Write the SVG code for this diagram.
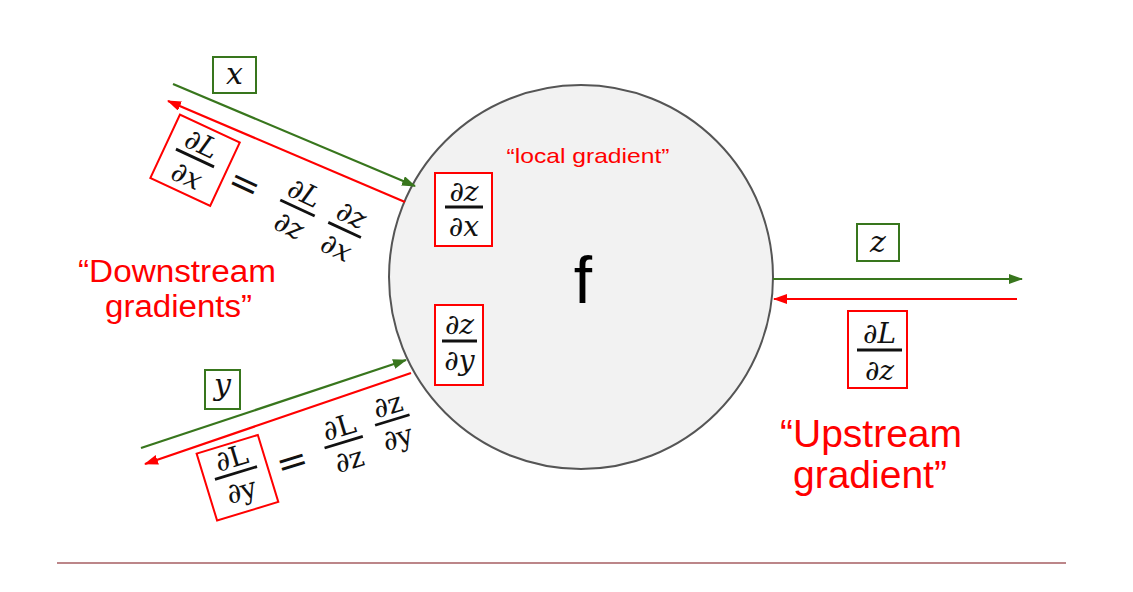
<svg xmlns="http://www.w3.org/2000/svg" width="1133" height="592" viewBox="0 0 1133 592">
<style>
.m{font-family:"DejaVu Serif","Liberation Serif",serif;font-style:italic;font-size:28px;text-anchor:middle;fill:#111}
.u{font-family:"DejaVu Serif","Liberation Serif",serif;font-size:28px;text-anchor:middle;fill:#111}
.eq{font-family:"DejaVu Serif","Liberation Serif",serif;font-size:38px;text-anchor:middle;fill:#111}
.v{font-family:"DejaVu Serif","Liberation Serif",serif;font-style:italic;font-size:30px;text-anchor:middle;fill:#111}
.bar{stroke:#111;stroke-width:2.8}
.rb{fill:#fff;stroke:#ff0000;stroke-width:2}
.gb{fill:#fff;stroke:#38761d;stroke-width:2}
.lab{font-family:"Liberation Sans",Arial,sans-serif;fill:#ff0000}
.g{stroke:#38761d;stroke-width:2.2;fill:none}
.r{stroke:#ff0000;stroke-width:2.2;fill:none}
</style>
<defs>
<marker id="ag" markerWidth="14" markerHeight="10" refX="13" refY="5" orient="auto" markerUnits="userSpaceOnUse"><path d="M0,0 L14,5 L0,10 z" fill="#38761d"/></marker>
<marker id="ar" markerWidth="14" markerHeight="10" refX="13" refY="5" orient="auto" markerUnits="userSpaceOnUse"><path d="M0,0 L14,5 L0,10 z" fill="#ff0000"/></marker>
</defs>
<rect width="1133" height="592" fill="#fff"/>

<g id="node-f">
<circle cx="581" cy="277" r="192" fill="#f2f2f2" stroke="#555" stroke-width="2"/>
<text x="583" y="303" font-family="Liberation Sans,Arial,sans-serif" font-size="66" text-anchor="middle" fill="#000">f</text>
<text class="lab" x="588" y="163" font-size="21" text-anchor="middle" textLength="163" lengthAdjust="spacingAndGlyphs">“local gradient”</text>
</g>

<g id="local-dzdx">
<rect class="rb" x="435" y="173" width="57" height="73"/>
<text class="m" x="464" y="201">∂z</text>
<line class="bar" x1="445" y1="207" x2="483" y2="207"/>
<text class="m" x="464" y="236">∂x</text>
</g>

<g id="local-dzdy">
<rect class="rb" x="435" y="305" width="48" height="80"/>
<text class="m" x="459.5" y="334">∂z</text>
<line class="bar" x1="442" y1="341" x2="477" y2="341"/>
<text class="m" x="459.5" y="370">∂y</text>
</g>

<g id="connectors">
<line class="g" x1="173" y1="84" x2="415" y2="186" marker-end="url(#ag)"/>
<line class="r" x1="405" y1="202" x2="168" y2="101" marker-end="url(#ar)"/>
<line class="g" x1="141" y1="448" x2="406" y2="360" marker-end="url(#ag)"/>
<line class="r" x1="411" y1="373" x2="145" y2="464" marker-end="url(#ar)"/>
<line class="g" x1="773" y1="279" x2="1022" y2="279" marker-end="url(#ag)"/>
<line class="r" x1="1017" y1="299" x2="774" y2="299" marker-end="url(#ar)"/>
</g>

<g id="label-x">
<rect class="gb" x="213" y="57" width="43" height="36"/>
<text class="v" x="234.5" y="84">x</text>
</g>

<g id="label-y">
<rect class="gb" x="205" y="370" width="35" height="39"/>
<text class="v" x="222.5" y="395">y</text>
</g>

<g id="label-z">
<rect class="gb" x="857" y="224" width="42" height="37"/>
<text class="v" x="878" y="252">z</text>
</g>

<g id="upstream-dLdz">
<rect class="rb" x="848" y="311" width="59" height="77"/>
<text class="m" x="879.5" y="343">∂L</text>
<line class="bar" x1="857" y1="350" x2="902" y2="350"/>
<text class="m" x="879.5" y="380">∂z</text>
</g>

<g id="downstream-x" transform="translate(195,158) rotate(25)">
<rect class="rb" x="-32" y="-33" width="66" height="70"/>
<text class="m" x="0" y="-6">∂L</text>
<line class="bar" x1="-21" y1="0" x2="21" y2="0"/>
<text class="m" x="0" y="29">∂x</text>
<text class="eq" x="56" y="15">=</text>
<text class="m" x="114" y="-5">∂L</text>
<line class="bar" x1="95" y1="2" x2="133" y2="2"/>
<text class="m" x="114" y="31">∂z</text>
<text class="m" x="166" y="-5">∂z</text>
<line class="bar" x1="148" y1="2" x2="184" y2="2"/>
<text class="m" x="166" y="31">∂x</text>
</g>

<g id="downstream-y" transform="translate(236,473) rotate(-17)">
<rect class="rb" x="-32" y="-30" width="64" height="70"/>
<text class="u" x="0" y="-6">∂L</text>
<line class="bar" x1="-22" y1="0" x2="22" y2="0"/>
<text class="u" x="0" y="28">∂y</text>
<text class="eq" x="57" y="18">=</text>
<text class="u" x="112" y="-4">∂L</text>
<line class="bar" x1="92" y1="2" x2="132" y2="2"/>
<text class="u" x="112" y="30">∂z</text>
<text class="u" x="165" y="-11">∂z</text>
<line class="bar" x1="147" y1="-5" x2="183" y2="-5"/>
<text class="u" x="165" y="23">∂y</text>
</g>

<g id="text-downstream">
<text class="lab" x="78" y="282" font-size="31" textLength="198" lengthAdjust="spacingAndGlyphs">“Downstream</text>
<text class="lab" x="105" y="317" font-size="31" textLength="147" lengthAdjust="spacingAndGlyphs">gradients”</text>
</g>

<g id="text-upstream">
<text class="lab" x="780" y="447" font-size="39">“Upstream</text>
<text class="lab" x="793" y="488" font-size="39">gradient”</text>
</g>

<line x1="57" y1="563" x2="1066" y2="563" stroke="#a65e62" stroke-width="1.5"/>
</svg>
